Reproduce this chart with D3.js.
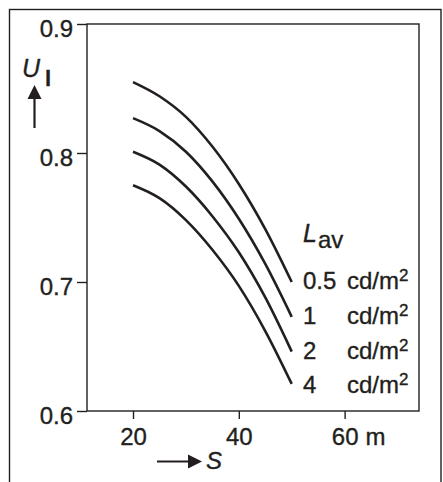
<!DOCTYPE html>
<html>
<head>
<meta charset="utf-8">
<script src="https://cdn.jsdelivr.net/npm/d3@7"></script>
<style>
  html, body { margin: 0; padding: 0; background: #fff; }
  svg { display: block; }
  text { font-family: "Liberation Sans", Arial, Helvetica, sans-serif; fill: #231f20; stroke: #231f20; stroke-width: 0.35px; }
</style>
</head>
<body>
<svg id="chart" width="443" height="482"></svg>
<script>
// ---- data ----
const sValues = [20, 25, 30, 35, 40, 45, 50];
const lavLabels = ["0.5", "1", "2", "4"];
const u_05 = [0.855, 0.844, 0.828, 0.805, 0.776, 0.741, 0.700];
const u_1  = [0.827, 0.817, 0.801, 0.778, 0.749, 0.714, 0.673];
const u_2  = [0.801, 0.791, 0.774, 0.751, 0.723, 0.688, 0.646];
const u_4  = [0.775, 0.765, 0.748, 0.725, 0.697, 0.662, 0.621];
const yTicks = [0.6, 0.7, 0.8, 0.9];
const xTicks = [20, 40, 60];
const xUnit = "m";
const unitLabel = "cd/m";

const series = [u_05, u_1, u_2, u_4];

const ink = "#231f20";
const svg = d3.select("#chart");

// outer frame
svg.append("rect")
  .attr("x", 9.5).attr("y", 9.5).attr("width", 431.5).attr("height", 520)
  .attr("fill", "none").attr("stroke", ink).attr("stroke-width", 1.4);

const pLeft = 87, pRight = 419, pTop = 24, pBottom = 411;
const x = d3.scaleLinear().domain([11.3, 74.06]).range([pLeft, pRight]);
const y = d3.scaleLinear().domain([0.6, 0.9]).range([pBottom, pTop]);

// plot box
svg.append("rect")
  .attr("x", pLeft).attr("y", pTop).attr("width", pRight - pLeft).attr("height", pBottom - pTop)
  .attr("fill", "none").attr("stroke", ink).attr("stroke-width", 1.4);

// y axis
const gy = svg.append("g").attr("transform", `translate(${pLeft},0)`)
  .call(d3.axisLeft(y).tickValues(yTicks).tickSize(10).tickPadding(4).tickFormat(d3.format(".1f")));
gy.select(".domain").remove();
gy.selectAll("line").attr("stroke", ink).attr("stroke-width", 1.4);
gy.selectAll("text").attr("font-size", 24).attr("dy", "0.52em")
  .style("font-family", '"Liberation Sans", Arial, sans-serif').attr("fill", ink);

// x axis
const gx = svg.append("g").attr("transform", `translate(0,${pBottom})`)
  .call(d3.axisBottom(x).tickValues(xTicks).tickSize(8).tickPadding(9).tickFormat(d3.format("d")));
gx.select(".domain").remove();
gx.selectAll("line").attr("stroke", ink).attr("stroke-width", 1.4);
gx.selectAll("text").attr("font-size", 24)
  .style("font-family", '"Liberation Sans", Arial, sans-serif').attr("fill", ink);
// unit "m" after the last tick label
const lastTick = gx.selectAll(".tick").filter(d => d === xTicks[xTicks.length - 1]);
const lastText = lastTick.select("text");
const lw = lastText.node().getComputedTextLength();
lastTick.append("text")
  .attr("x", lw / 2 + 7).attr("y", 17).attr("dy", "0.71em")
  .attr("font-size", 24).attr("text-anchor", "start")
  .style("font-family", '"Liberation Sans", Arial, sans-serif').attr("fill", ink)
  .text(xUnit);

// curves
const line = d3.line()
  .x((d, i) => x(sValues[i]))
  .y(d => y(d))
  .curve(d3.curveMonotoneX);

svg.append("g").selectAll("path").data(series).join("path")
  .attr("d", d => line(d))
  .attr("fill", "none").attr("stroke", ink).attr("stroke-width", 2.6)
  .attr("stroke-linecap", "butt");

// legend title L_av
const lt = svg.append("text").attr("x", 303).attr("y", 242).attr("font-size", 25);
lt.append("tspan").attr("font-style", "italic").text("L");
lt.append("tspan").attr("dx", 1).attr("dy", 6).attr("font-size", 24).text("av");

// legend rows
const rowBase = [289, 324, 359, 393];
series.forEach((s, i) => {
  svg.append("text").attr("x", 303).attr("y", rowBase[i]).attr("font-size", 24).text(lavLabels[i]);
  const t = svg.append("text").attr("x", 347).attr("y", rowBase[i]).attr("font-size", 24);
  t.append("tspan").text(unitLabel);
  t.append("tspan").attr("dy", -8).attr("font-size", 17).text("2");
});

// y axis title U_l with up arrow
const yt = svg.append("text").attr("x", 22).attr("y", 77).attr("font-size", 25);
yt.append("tspan").attr("font-style", "italic").text("U");
yt.append("tspan").attr("dx", 5).attr("dy", 9).attr("font-size", 22).attr("font-weight", "bold").text("l");
svg.append("line").attr("x1", 34.5).attr("x2", 34.5).attr("y1", 128).attr("y2", 96)
  .attr("stroke", ink).attr("stroke-width", 2.2);
svg.append("path").attr("d", "M34.5,85 L41.5,99 L27.5,99 Z").attr("fill", ink);

// x axis title -> S
svg.append("line").attr("x1", 157).attr("x2", 190).attr("y1", 461.5).attr("y2", 461.5)
  .attr("stroke", ink).attr("stroke-width", 2.2);
svg.append("path").attr("d", "M202,461.5 L188,454.5 L188,468.5 Z").attr("fill", ink);
svg.append("text").attr("x", 206).attr("y", 469).attr("font-size", 24)
  .attr("font-style", "italic").text("S");
</script>
</body>
</html>
